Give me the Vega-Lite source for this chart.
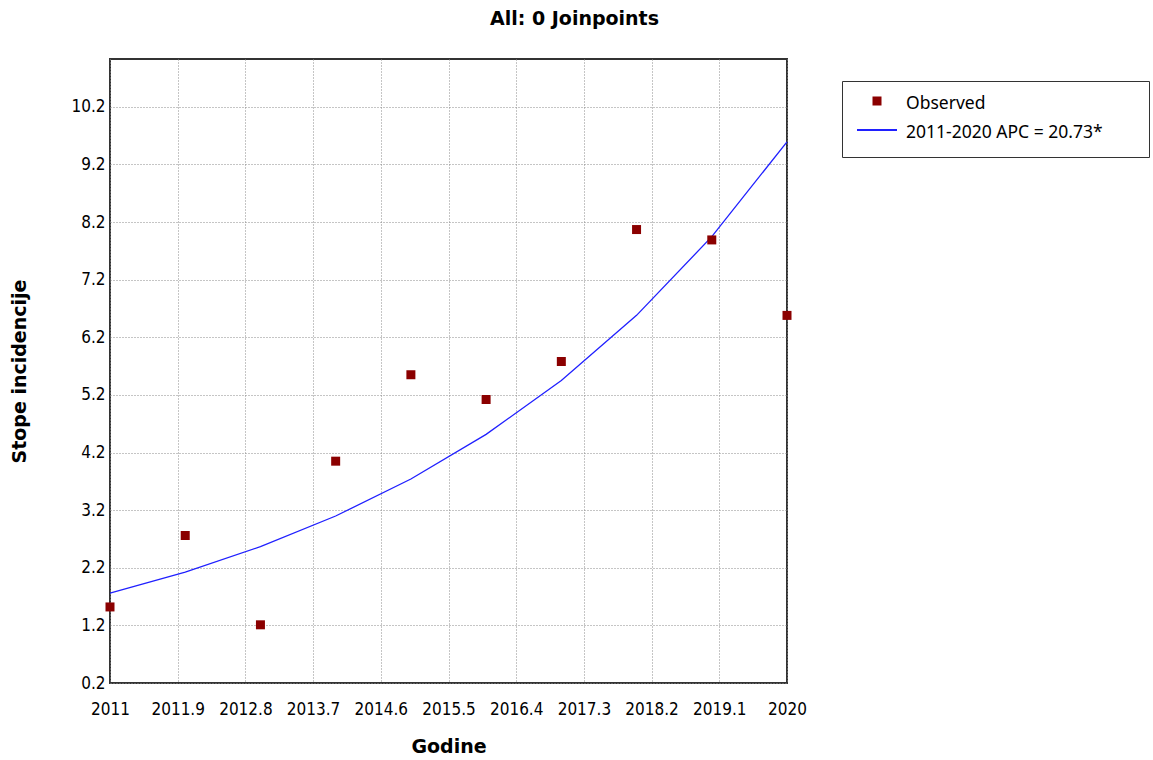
{
  "$schema": "https://vega.github.io/schema/vega-lite/v6.json",
  "width": 677,
  "height": 624,
  "autosize": {"type": "none"},
  "padding": {"left": 110, "top": 59, "right": 366, "bottom": 77},
  "background": "white",
  "title": {
    "text": "All: 0 Joinpoints",
    "font": "DejaVu Sans",
    "fontSize": 19,
    "fontWeight": "bold",
    "color": "black",
    "anchor": "middle",
    "frame": "group",
    "dx": 126,
    "offset": 30
  },
  "datasets": {
    "observed": [
      {"year": 2011, "value": 1.52, "series": "Observed"},
      {"year": 2012, "value": 2.76, "series": "Observed"},
      {"year": 2013, "value": 1.21, "series": "Observed"},
      {"year": 2014, "value": 4.05, "series": "Observed"},
      {"year": 2015, "value": 5.55, "series": "Observed"},
      {"year": 2016, "value": 5.12, "series": "Observed"},
      {"year": 2017, "value": 5.78, "series": "Observed"},
      {"year": 2018, "value": 8.07, "series": "Observed"},
      {"year": 2019, "value": 7.89, "series": "Observed"},
      {"year": 2020, "value": 6.58, "series": "Observed"}
    ],
    "fitted": [
      {"year": 2011, "value": 1.76, "series": "2011-2020 APC  = 20.73*"},
      {"year": 2012, "value": 2.125, "series": "2011-2020 APC  = 20.73*"},
      {"year": 2013, "value": 2.566, "series": "2011-2020 APC  = 20.73*"},
      {"year": 2014, "value": 3.098, "series": "2011-2020 APC  = 20.73*"},
      {"year": 2015, "value": 3.74, "series": "2011-2020 APC  = 20.73*"},
      {"year": 2016, "value": 4.515, "series": "2011-2020 APC  = 20.73*"},
      {"year": 2017, "value": 5.451, "series": "2011-2020 APC  = 20.73*"},
      {"year": 2018, "value": 6.581, "series": "2011-2020 APC  = 20.73*"},
      {"year": 2019, "value": 7.946, "series": "2011-2020 APC  = 20.73*"},
      {"year": 2020, "value": 9.593, "series": "2011-2020 APC  = 20.73*"}
    ]
  },
  "config": {
    "view": {"stroke": "#333333", "strokeWidth": 2},
    "axis": {
      "labelFont": "DejaVu Sans Condensed",
      "labelFontSize": 17,
      "labelColor": "black",
      "titleFont": "DejaVu Sans",
      "titleFontSize": 19,
      "titleFontWeight": "bold",
      "titleColor": "black",
      "grid": true,
      "gridColor": "#8a8a8a",
      "gridDash": [1, 2],
      "gridWidth": 1,
      "gridOpacity": 1,
      "ticks": false,
      "domain": false,
      "labelOverlap": false,
      "labelFlush": false
    }
  },
  "layer": [
    {
      "data": {"name": "fitted"},
      "mark": {"type": "line", "strokeWidth": 1.3},
      "encoding": {
        "x": {
          "field": "year",
          "type": "quantitative",
          "scale": {"domain": [2011, 2020], "nice": false, "zero": false},
          "axis": {
            "title": "Godine",
            "values": [2011, 2011.9, 2012.8, 2013.7, 2014.6, 2015.5, 2016.4, 2017.3, 2018.2, 2019.1, 2020],
            "format": ".1~f",
            "labelPadding": 18,
            "titlePadding": 20
          }
        },
        "y": {
          "field": "value",
          "type": "quantitative",
          "scale": {"domain": [0.2, 11.03], "nice": false, "zero": false},
          "axis": {
            "title": "Stope incidencije",
            "values": [0.2, 1.2, 2.2, 3.2, 4.2, 5.2, 6.2, 7.2, 8.2, 9.2, 10.2],
            "format": ".1f",
            "labelPadding": 5,
            "titlePadding": 41
          }
        },
        "color": {
          "field": "series",
          "type": "nominal",
          "scale": {
            "domain": ["Observed", "2011-2020 APC  = 20.73*"],
            "range": ["#8b0000", "#2020ff"]
          },
          "legend": {
            "orient": "none",
            "legendX": 732,
            "legendY": 22,
            "title": null,
            "strokeColor": "#333333",
            "fillColor": "white",
            "padding": 15,
            "symbolSize": 49,
            "symbolType": "square",
            "symbolOffset": -1,
            "labelOffset": 8,
            "rowPadding": 11,
            "labelLimit": 500,
            "labelFont": "Noto Sans",
            "labelFontSize": 17.5,
            "labelColor": "black",
            "labelExpr": "datum.label == 'Observed' ? datum.label : datum.label + '\u2800\u2800'",
            "encode": {
              "symbols": {
                "update": {
                  "shape": {"signal": "datum.value === 'Observed' ? 'square' : 'stroke'"},
                  "size": {"signal": "datum.value === 'Observed' ? 49 : 1600"},
                  "fill": {"scale": "color", "field": "value"},
                  "stroke": {"signal": "datum.value === 'Observed' ? 'transparent' : '#0000ff'"},
                  "strokeWidth": {"value": 2},
                  "opacity": {"value": 1},
                  "y": {"value": 5}
                }
              },
              "labels": {
                "update": {
                  "y": {"value": 8}
                }
              }
            }
          }
        }
      }
    },
    {
      "data": {"name": "observed"},
      "mark": {"type": "square", "size": 81, "opacity": 1},
      "encoding": {
        "x": {"field": "year", "type": "quantitative"},
        "y": {"field": "value", "type": "quantitative"},
        "color": {"field": "series", "type": "nominal"}
      }
    }
  ]
}
